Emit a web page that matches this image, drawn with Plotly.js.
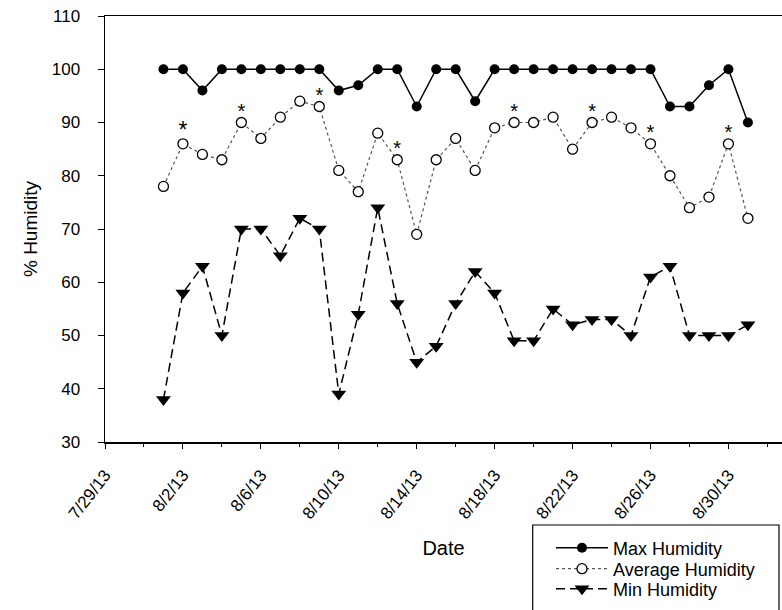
<!DOCTYPE html>
<html>
<head>
<meta charset="utf-8">
<script src="https://cdn.plot.ly/plotly-3.0.1.min.js"></script>
<style>
  html, body { margin: 0; padding: 0; background: #fff; }
  #chart { width: 782px; height: 610px; }
</style>
</head>
<body>
<div id="chart"></div>
<script>
// Daily relative humidity, August 2013
const dates = [
  '2013-08-01','2013-08-02','2013-08-03','2013-08-04','2013-08-05','2013-08-06',
  '2013-08-07','2013-08-08','2013-08-09','2013-08-10','2013-08-11','2013-08-12',
  '2013-08-13','2013-08-14','2013-08-15','2013-08-16','2013-08-17','2013-08-18',
  '2013-08-19','2013-08-20','2013-08-21','2013-08-22','2013-08-23','2013-08-24',
  '2013-08-25','2013-08-26','2013-08-27','2013-08-28','2013-08-29','2013-08-30',
  '2013-08-31'
];
const maxHumidity = [100,100,96,100,100,100,100,100,100,96,97,100,100,93,100,100,94,100,
                     100,100,100,100,100,100,100,100,93,93,97,100,90];
const avgHumidity = [78,86,84,83,90,87,91,94,93,81,77,88,83,69,83,87,81,89,
                     90,90,91,85,90,91,89,86,80,74,76,86,72];
const minHumidity = [38,58,63,50,70,70,65,72,70,39,54,74,56,45,48,56,62,58,
                     49,49,55,52,53,53,50,61,63,50,50,50,52];
// Days flagged with an asterisk above the average value
const flaggedDates = ['2013-08-02','2013-08-05','2013-08-09','2013-08-13',
                      '2013-08-19','2013-08-23','2013-08-26','2013-08-30'];

const yTicks = [30,40,50,60,70,80,90,100,110];

const flaggedAvg = flaggedDates.map(d => avgHumidity[dates.indexOf(d)]);

const DAY = 86400000;
const FONT = 'Liberation Sans, Arial, sans-serif';

// plot-area geometry in pixels, used to place the legend box
const PX = { l: 105, t: 16, w: 677, h: 426 };
const px2x = p => (p - PX.l) / PX.w;
const px2y = p => (PX.t + PX.h - p) / PX.h;

const traces = [
  {
    x: dates, y: maxHumidity, name: 'Max Humidity', type: 'scatter', mode: 'lines+markers',
    line: { color: '#000', width: 1.5 },
    marker: { symbol: 'circle', size: 10, color: '#000' },
    legend: 'legend'
  },
  {
    x: dates, y: avgHumidity, name: 'Average Humidity', type: 'scatter', mode: 'lines+markers',
    line: { color: '#555', width: 1.2, dash: 'dot' },
    marker: { symbol: 'circle', size: 10, color: '#fff', line: { width: 1.3, color: '#000' } },
    legend: 'legend2'
  },
  {
    x: dates, y: minHumidity, name: 'Min Humidity', type: 'scatter', mode: 'lines+markers',
    line: { color: '#000', width: 1.5, dash: '9px,5px' },
    marker: { symbol: 'triangle-down', size: 13, color: '#000' },
    legend: 'legend3'
  },
  {
    x: flaggedDates, y: flaggedAvg, type: 'scatter', mode: 'text', text: flaggedDates.map(() => '*'),
    textposition: 'top center',
    textfont: { family: FONT, size: flaggedDates.map((d, i) => (i === 0 ? 23 : 20)), color: '#000' },
    showlegend: false, hoverinfo: 'skip', cliponaxis: false
  }
];

const legendStyle = (yPx) => ({
  x: px2x(551), y: px2y(yPx), xanchor: 'left', yanchor: 'middle',
  bgcolor: 'rgba(0,0,0,0)', borderwidth: 0, itemwidth: 52,
  font: { family: FONT, size: 18, color: '#000' }
});

const layout = {
  width: 782, height: 610,
  margin: { l: 105, r: 0, t: 16, b: 168 },
  paper_bgcolor: '#fff', plot_bgcolor: '#fff',
  font: { family: FONT, color: '#000' },
  showlegend: true,
  xaxis: {
    type: 'date', automargin: false,
    range: ['2013-07-29', '2013-09-01 18:00'],
    tick0: '2013-07-29', dtick: 4 * DAY,
    tickformat: '%-m/%-d/%y',
    tickangle: -52,
    ticks: 'outside', ticklen: 5, tickwidth: 1, tickcolor: '#000',
    ticklabelstandoff: 10,
    minor: { dtick: 2 * DAY, tick0: '2013-07-29', ticks: 'outside', ticklen: 3, tickwidth: 1, tickcolor: '#000', showgrid: false },
    showline: true, linecolor: '#000', linewidth: 1.5, mirror: true,
    showgrid: false, zeroline: false,
    tickfont: { family: FONT, size: 17, color: '#000' },
    title: { text: 'Date', font: { family: FONT, size: 20, color: '#000' }, standoff: 19 }
  },
  yaxis: {
    range: [30, 110], automargin: false,
    tickvals: yTicks,
    ticks: 'outside', ticklen: 6, tickwidth: 1, tickcolor: '#000',
    ticklabelstandoff: 14,
    showline: true, linecolor: '#000', linewidth: 1.5, mirror: true,
    showgrid: false, zeroline: false,
    tickfont: { family: FONT, size: 17, color: '#000' },
    title: { text: '% Humidity', font: { family: FONT, size: 19, color: '#000' }, standoff: 9 }
  },
  legend: legendStyle(548),
  legend2: legendStyle(569),
  legend3: legendStyle(589),
  shapes: [
    {
      type: 'rect', xref: 'paper', yref: 'paper',
      x0: px2x(532.7), x1: px2x(779),
      y0: px2y(525), y1: px2y(625),
      line: { color: '#000', width: 1.2 }, fillcolor: 'rgba(0,0,0,0)'
    }
  ]
};

Plotly.newPlot('chart', traces, layout, { displayModeBar: false, staticPlot: true });
</script>
</body>
</html>
